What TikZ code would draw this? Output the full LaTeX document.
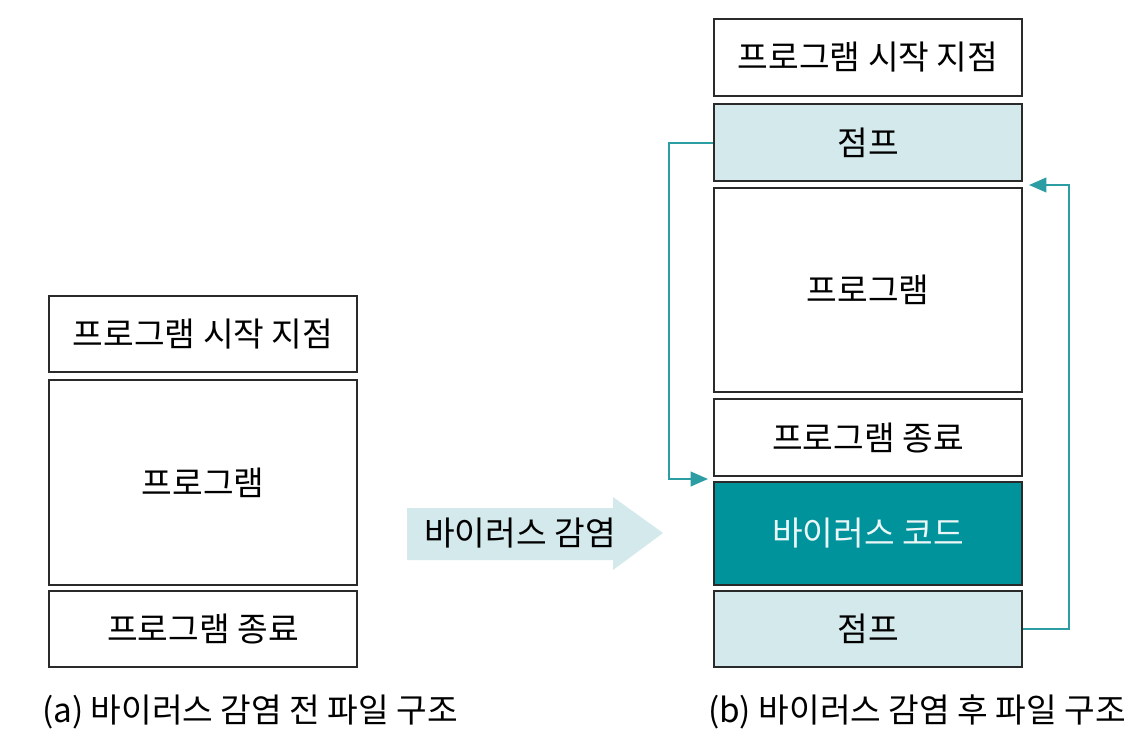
\documentclass[tikz,border=0pt]{standalone}
\usepackage{fontspec}
\setmainfont{Noto Sans CJK KR}
\usepackage{xcolor}
\usetikzlibrary{arrows.meta}

\definecolor{paleteal}{HTML}{D3E9EC}
\definecolor{deepteal}{HTML}{00939B}
\definecolor{lineteal}{HTML}{2C9EA3}
\definecolor{edgegray}{HTML}{2A2A2A}

\tikzset{
  blk/.style={draw=edgegray, line width=1.5pt, minimum width=231pt, inner sep=0pt,
    font=\fontsize{25}{29}\selectfont},
  jumpblk/.style={blk, fill=paleteal},
  virusblk/.style={blk, fill=deepteal, text=white!92!deepteal},
  jmp/.style={draw=lineteal, line width=1.5pt, -{Triangle[length=13pt,width=11pt]}},
  caption/.style={font=\fontsize{25}{29}\selectfont}
}

\begin{document}
\begin{tikzpicture}[x=0.75pt,y=-0.75pt]
\useasboundingbox (0,0) rectangle (1140,736);

\begin{scope}
\node[blk, minimum height=57pt] (startA) at (203,334) {프로그램 시작 지점};
\node[blk, minimum height=154pt] (progA) at (203,482.5) {프로그램};
\node[blk, minimum height=57pt] (endA) at (203,629) {프로그램 종료};

\node[caption] (capA) at (250,712) {(a) 바이러스 감염 전 파일 구조};
\end{scope}

\begin{scope}
\fill[paleteal] (407,508)--(613,508)--(613,497)--(663,533)--(613,570)--(613,560)--(407,560)--cycle;
\node[font=\fontsize{25}{29}\selectfont] (infect) at (520,533) {바이러스 감염};
\end{scope}

\begin{scope}
\node[blk, minimum height=57.5pt] (startB) at (868,57.5) {프로그램 시작 지점};
\node[jumpblk, minimum height=57.5pt] (jumpA) at (868,142.5) {점프};
\node[blk, minimum height=153pt] (progB) at (868,290) {프로그램};
\node[blk, minimum height=57.5pt] (endB) at (868,437.5) {프로그램 종료};
\node[virusblk, minimum height=77pt] (virus) at (868,533.5) {바이러스 코드};
\node[jumpblk, minimum height=57pt] (jumpB) at (868,629) {점프};

\coordinate (inL) at (708,479);
\coordinate (inR) at (1029,185);
\draw[jmp] (jumpA.west) -- ++(-44,0) |- (inL);
\draw[jmp] (jumpB.east) -- ++(46,0) |- (inR);

\node[caption] (capB) at (917,712) {(b) 바이러스 감염 후 파일 구조};
\end{scope}
\end{tikzpicture}
\end{document}
